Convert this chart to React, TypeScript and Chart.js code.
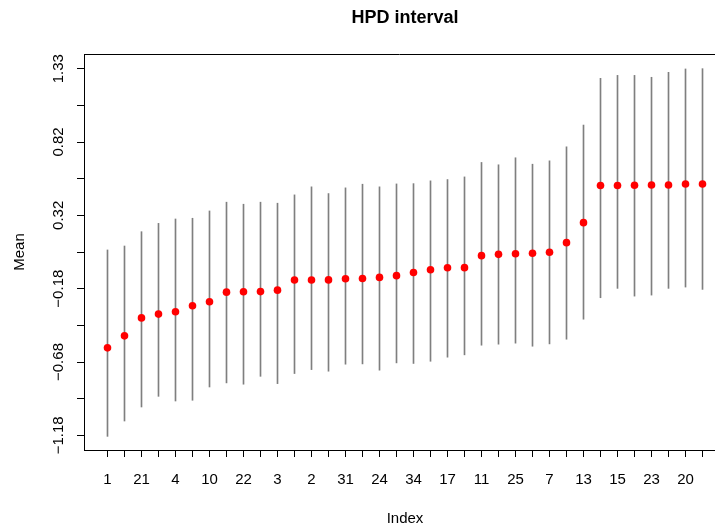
import React, { useEffect, useRef } from "react";
import { Chart, registerables } from "chart.js";

Chart.register(...registerables);

const indexLabels = [
  "1", "19", "21", "8", "4", "27", "10", "33", "22", "5", "3", "29",
  "2", "14", "31", "36", "24", "9", "34", "26", "17", "16", "11", "30",
  "25", "6", "7", "35", "13", "12", "15", "28", "23", "18", "20", "32",
];

const meanValues = [
  -0.581, -0.499, -0.376, -0.35, -0.334, -0.293, -0.266, -0.2, -0.197, -0.196, -0.186, -0.117,
  -0.117, -0.116, -0.108, -0.106, -0.099, -0.087, -0.065, -0.046, -0.033, -0.032, 0.05, 0.059,
  0.063, 0.066, 0.073, 0.139, 0.276, 0.53, 0.53, 0.532, 0.534, 0.534, 0.541, 0.541,
];

const lowerValues = [
  -1.187, -1.082, -0.986, -0.913, -0.945, -0.94, -0.849, -0.821, -0.83, -0.776, -0.826, -0.757,
  -0.73, -0.741, -0.693, -0.691, -0.734, -0.684, -0.688, -0.673, -0.645, -0.629, -0.563, -0.556,
  -0.549, -0.57, -0.554, -0.522, -0.385, -0.238, -0.174, -0.227, -0.22, -0.174, -0.165, -0.181,
];

const upperValues = [
  0.089, 0.116, 0.214, 0.271, 0.301, 0.306, 0.356, 0.416, 0.402, 0.416, 0.409, 0.466,
  0.521, 0.475, 0.514, 0.539, 0.521, 0.541, 0.543, 0.562, 0.571, 0.589, 0.688, 0.672,
  0.72, 0.676, 0.699, 0.795, 0.944, 1.264, 1.284, 1.284, 1.271, 1.305, 1.328, 1.33,
];

const yTickValues = [-1.18, -0.929, -0.678, -0.427, -0.176, 0.075, 0.326, 0.577, 0.828, 1.079, 1.33];
const yTickLabels = ["\u22121.18", "", "\u22120.68", "", "\u22120.18", "", "0.32", "", "0.82", "", "1.33"];

const FONT = "'Liberation Sans', Arial, Helvetica, sans-serif";

export default function App() {
  const canvasRef = useRef<HTMLCanvasElement | null>(null);

  useEffect(() => {
    const canvas = canvasRef.current;
    if (!canvas) return;

    const yRange = yTickValues[yTickValues.length - 1] - yTickValues[0];
    const yMin = yTickValues[0] - 0.04 * yRange;
    const yMax = yTickValues[yTickValues.length - 1] + 0.04 * yRange;
    const xMin = -0.382;
    const xMax = 36.735;
    const xBoxMin = -0.4;
    const xBoxMax = 37.4;

    const decor = {
      id: "rDecor",
      afterDraw(chart: any) {
        const { ctx, chartArea, scales } = chart;
        const xs = scales.x;
        const ys = scales.y;
        ctx.save();
        ctx.strokeStyle = "#000";
        ctx.lineWidth = 1;
        ctx.beginPath();
        ctx.moveTo(chartArea.left, Math.round(chartArea.top) + 0.5);
        ctx.lineTo(canvas.width, Math.round(chartArea.top) + 0.5);
        ctx.stroke();

        ctx.fillStyle = "#000";
        const cx = (xs.getPixelForValue(xBoxMin) + xs.getPixelForValue(xBoxMax)) / 2;
        ctx.font = `bold 18px ${FONT}`;
        ctx.textAlign = "center";
        ctx.textBaseline = "alphabetic";
        ctx.fillText("HPD interval", cx, 22.7);

        ctx.font = `15px ${FONT}`;
        ctx.fillText("Index", cx, 523.3);

        yTickValues.forEach((v, i) => {
          const lab = yTickLabels[i];
          if (!lab) return;
          ctx.save();
          ctx.translate(63.3, ys.getPixelForValue(v));
          ctx.rotate(-Math.PI / 2);
          ctx.textAlign = "center";
          ctx.textBaseline = "alphabetic";
          ctx.fillText(lab, 0, 0);
          ctx.restore();
        });

        ctx.save();
        ctx.translate(24, (chartArea.top + chartArea.bottom) / 2);
        ctx.rotate(-Math.PI / 2);
        ctx.textAlign = "center";
        ctx.textBaseline = "alphabetic";
        ctx.fillText("Mean", 0, 0);
        ctx.restore();

        ctx.restore();
      },
    };

    const chart = new Chart(canvas, {
      type: "scatter",
      data: {
        datasets: [
          {
            type: "scatter",
            label: "Mean",
            data: meanValues.map((m, i) => ({ x: i + 1, y: m })),
            pointRadius: 3.8,
            pointHoverRadius: 3.8,
            pointBackgroundColor: "#ff0000",
            pointBorderWidth: 0,
            pointBorderColor: "#ff0000",
          } as any,
          {
            type: "bar",
            label: "HPD",
            data: lowerValues.map((lo, i) => ({ x: i + 1, y: [lo, upperValues[i]] })),
            backgroundColor: "#7f7f7f",
            borderWidth: 0,
            barThickness: 1,
            grouped: false,
          } as any,
        ],
      },
      options: {
        animation: false,
        responsive: false,
        events: [],
        layout: { autoPadding: false, padding: { top: 54, left: 0, right: 0, bottom: 0 } },
        plugins: {
          legend: { display: false },
          tooltip: { enabled: false },
          title: { display: false },
        },
        scales: {
          x: {
            type: "linear",
            min: xMin,
            max: xMax,
            offset: false,
            afterFit: (s: any) => {
              s.height = 77;
              s.paddingLeft = 0;
              s.paddingRight = 0;
            },
            afterBuildTicks: (s: any) => {
              s.ticks = indexLabels.map((_, i) => ({ value: i + 1 }));
            },
            ticks: {
              autoSkip: false,
              maxRotation: 0,
              minRotation: 0,
              padding: 14,
              color: "#000",
              font: { family: FONT, size: 15 },
              callback: (_v: any, i: number) => (i % 2 === 0 ? indexLabels[i] : ""),
            },
            grid: {
              display: true,
              offset: false,
              drawOnChartArea: false,
              drawTicks: true,
              tickLength: 7,
              color: "#000",
              lineWidth: 1,
            },
            border: { display: true, color: "#000", width: 1 },
          },
          y: {
            type: "linear",
            min: yMin,
            max: yMax,
            afterFit: (s: any) => {
              s.width = 84;
              s.paddingTop = 0;
              s.paddingBottom = 0;
            },
            afterBuildTicks: (s: any) => {
              s.ticks = yTickValues.map((v) => ({ value: v }));
            },
            ticks: { display: false },
            grid: {
              display: true,
              offset: false,
              drawOnChartArea: false,
              drawTicks: true,
              tickLength: 7,
              color: "#000",
              lineWidth: 1,
            },
            border: { display: true, color: "#000", width: 1 },
          },
        },
      },
      plugins: [decor],
    });

    return () => chart.destroy();
  }, []);

  return (
    <div style={{ position: "fixed", left: 0, top: 0, width: 715, height: 527, background: "#fff" }}>
      <canvas ref={canvasRef} width={715} height={527} style={{ display: "block" }} />
    </div>
  );
}
